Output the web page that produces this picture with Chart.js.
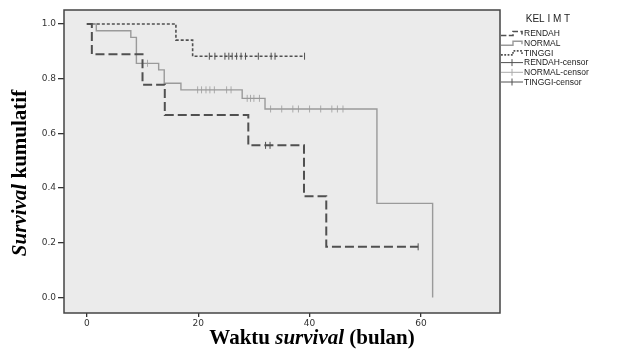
<!DOCTYPE html>
<html>
<head>
<meta charset="utf-8">
<script src="https://cdn.jsdelivr.net/npm/chart.js@4.4.1/dist/chart.umd.min.js"></script>
<style>
  html, body { margin: 0; padding: 0; background: #fff; }
  #chart { display: block; }
</style>
</head>
<body>
<canvas id="chart" width="621" height="351"></canvas>
<script>
// Kaplan-Meier curves per IMT group (time in months, cumulative survival)
const rendahTime = [0, 0.9, 10, 14, 29, 39, 43, 59.5];
const rendahSurv = [1, 0.889, 0.778, 0.667, 0.556, 0.370, 0.185, 0.185];
const rendahCensorTime = [32.1, 32.9, 59.5];
const rendahCensorSurv = [0.556, 0.556, 0.185];

const normalTime = [0, 1.7, 7.9, 8.9, 12.9, 13.9, 16.9, 27.9, 32, 52.1, 62.1];
const normalSurv = [1, 0.975, 0.951, 0.856, 0.832, 0.783, 0.759, 0.728, 0.689, 0.344, 0];
const normalCensorTime = [10.9, 19.9, 20.6, 21.4, 22.1, 22.9, 25.1, 25.9, 28.8, 29.4, 30.0, 31.0,
  33, 35, 37, 38, 40, 42, 44, 45, 46];
const normalCensorSurv = [0.856, 0.759, 0.759, 0.759, 0.759, 0.759, 0.759, 0.759, 0.728, 0.728, 0.728, 0.728,
  0.689, 0.689, 0.689, 0.689, 0.689, 0.689, 0.689, 0.689, 0.689];

const tinggiTime = [0, 16, 19, 39.1];
const tinggiSurv = [1, 0.941, 0.882, 0.882];
const tinggiCensorTime = [22.0, 23.0, 24.8, 25.5, 26.1, 26.9, 27.7, 28.5, 30.8, 33.1, 33.8, 39.1];
const tinggiCensorSurv = [0.882, 0.882, 0.882, 0.882, 0.882, 0.882, 0.882, 0.882, 0.882, 0.882, 0.882, 0.882];

const xTicks = [0, 20, 40, 60];
const yTicks = [0, 0.2, 0.4, 0.6, 0.8, 1.0];
const legendTitle = 'KEL I M T';

const pts = (xs, ys) => xs.map((x, i) => ({ x: x, y: ys[i] }));

const DARK = '#505050';
const GREY = '#9a9a9a';

const kmLine = (label, xs, ys, color, width, dash) => ({
  label: label,
  data: pts(xs, ys),
  stepped: true,
  borderColor: color,
  borderWidth: width,
  borderDash: dash,
  pointRadius: 0,
  fill: false
});

const censor = (label, xs, ys, color) => ({
  label: label,
  data: pts(xs, ys),
  showLine: false,
  pointStyle: 'line',
  rotation: 90,
  pointRadius: 3.5,
  borderColor: color,
  borderWidth: 1,
  backgroundColor: color
});

function drawRich(ctx, parts, x, y) {
  let total = 0;
  parts.forEach(p => { ctx.font = p.font; total += ctx.measureText(p.text).width; });
  let cx = x - total / 2;
  parts.forEach(p => {
    ctx.font = p.font;
    ctx.fillText(p.text, cx, y);
    cx += ctx.measureText(p.text).width;
  });
}

const framePlugin = {
  id: 'frame',
  beforeDraw(chart) {
    const { ctx, chartArea: a } = chart;
    ctx.save();
    ctx.fillStyle = '#ebebeb';
    ctx.fillRect(a.left, a.top, a.right - a.left, a.bottom - a.top);
    ctx.restore();
  },
  afterDraw(chart) {
    const { ctx, chartArea: a } = chart;
    ctx.save();
    ctx.strokeStyle = '#444';
    ctx.lineWidth = 1.5;
    ctx.strokeRect(a.left, a.top, a.right - a.left, a.bottom - a.top);

    // axis titles (mixed italic)
    ctx.fillStyle = '#000';
    ctx.textBaseline = 'alphabetic';
    const serif = '"Liberation Serif", "Times New Roman", serif';
    drawRich(ctx, [
      { text: 'Waktu ', font: 'bold 21px ' + serif },
      { text: 'survival', font: 'italic bold 21px ' + serif },
      { text: ' (bulan)', font: 'bold 21px ' + serif }
    ], 312, 344);
    ctx.translate(26, 173);
    ctx.rotate(-Math.PI / 2);
    drawRich(ctx, [
      { text: 'Survival', font: 'italic bold 21px ' + serif },
      { text: ' kumulatif', font: 'bold 21px ' + serif }
    ], 0, 0);
    ctx.restore();

    // legend
    ctx.save();
    ctx.fillStyle = '#222';
    ctx.textBaseline = 'middle';
    ctx.font = '10px "Liberation Sans", Arial, sans-serif';
    ctx.textAlign = 'center';
    ctx.fillText(legendTitle, 548, 19);
    ctx.textAlign = 'left';
    ctx.font = '8.5px "Liberation Sans", Arial, sans-serif';
    const x0 = 501;
    chart.data.datasets.forEach((ds, i) => {
      const y = 33.5 + i * 9.7;
      ctx.strokeStyle = ds.borderColor;
      if (ds.showLine === false) {
        ctx.lineWidth = 1;
        ctx.setLineDash([]);
        ctx.beginPath();
        ctx.moveTo(x0, y); ctx.lineTo(x0 + 22, y);
        ctx.moveTo(x0 + 11, y - 3.5); ctx.lineTo(x0 + 11, y + 3.5);
        ctx.stroke();
      } else {
        ctx.lineWidth = Math.min(ds.borderWidth, 1.6);
        ctx.setLineDash(ds.borderDash ? ds.borderDash.map(d => Math.max(1.5, d * 0.6)) : []);
        ctx.beginPath();
        ctx.moveTo(x0, y + 2); ctx.lineTo(x0 + 12, y + 2);
        ctx.lineTo(x0 + 12, y - 2); ctx.lineTo(x0 + 21, y - 2); ctx.lineTo(x0 + 21, y + 1);
        ctx.stroke();
      }
      ctx.fillText(ds.label, 524, y + 0.5);
    });
    ctx.restore();
  }
};

const tickFont = { family: '"DejaVu Sans", sans-serif', size: 9 };

new Chart(document.getElementById('chart'), {
  type: 'line',
  data: {
    datasets: [
      kmLine('RENDAH', rendahTime, rendahSurv, DARK, 2, [9, 4]),
      kmLine('NORMAL', normalTime, normalSurv, GREY, 1.4, []),
      kmLine('TINGGI', tinggiTime, tinggiSurv, DARK, 1.6, [3, 2]),
      censor('RENDAH-censor', rendahCensorTime, rendahCensorSurv, DARK),
      censor('NORMAL-censor', normalCensorTime, normalCensorSurv, '#aaaaaa'),
      censor('TINGGI-censor', tinggiCensorTime, tinggiCensorSurv, DARK)
    ]
  },
  options: {
    responsive: false,
    animation: false,
    devicePixelRatio: 1,
    layout: { padding: { top: 10, right: 121, left: 0, bottom: 0 } },
    plugins: {
      legend: { display: false },
      tooltip: { enabled: false }
    },
    scales: {
      x: {
        type: 'linear',
        min: -4.1,
        max: 74.2,
        afterBuildTicks: s => { s.ticks = xTicks.map(v => ({ value: v })); },
        afterFit: s => { s.height = 38; },
        border: { display: false },
        grid: { drawOnChartArea: false, drawTicks: true, tickLength: 4, color: '#333', lineWidth: 1.3 },
        ticks: { font: tickFont, color: '#333', padding: 1, maxRotation: 0 }
      },
      y: {
        min: -0.057,
        max: 1.051,
        afterBuildTicks: s => { s.ticks = yTicks.map(v => ({ value: v })); },
        afterFit: s => { s.width = 64; },
        border: { display: false },
        grid: { drawOnChartArea: false, drawTicks: true, tickLength: 6, color: '#333', lineWidth: 1.3 },
        ticks: { font: tickFont, color: '#333', padding: 2, callback: v => v.toFixed(1) }
      }
    }
  },
  plugins: [framePlugin]
});
</script>
</body>
</html>
